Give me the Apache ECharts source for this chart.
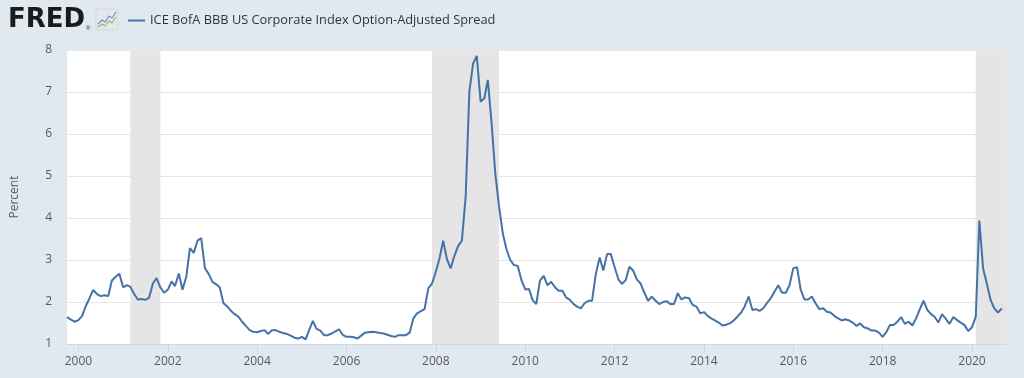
<!DOCTYPE html>
<html><head><meta charset="utf-8">
<script src="https://cdn.jsdelivr.net/npm/echarts@6/dist/echarts.min.js"></script>
<style>html,body{margin:0;padding:0;background:#e1e9f0;}#chart{width:1024px;height:378px;}</style>
</head><body><div id="chart"></div>
<script>
const seriesName = 'ICE BofA BBB US Corporate Index Option-Adjusted Spread';
const startYear = 1999, startMonth = 10; // first monthly observation: 1999-10
const spreadValues = [
 1.64,1.58,1.53,1.57,1.67,1.90,2.09,2.29,2.19,2.14,2.16,2.14,
 2.51,2.60,2.67,2.35,2.40,2.36,2.19,2.06,2.07,2.05,2.10,2.44,
 2.57,2.35,2.22,2.29,2.49,2.38,2.68,2.29,2.60,3.28,3.17,3.46,
 3.52,2.80,2.67,2.48,2.42,2.35,1.97,1.90,1.79,1.71,1.65,1.53,
 1.43,1.33,1.29,1.28,1.31,1.33,1.24,1.33,1.33,1.29,1.26,1.24,
 1.20,1.15,1.13,1.17,1.11,1.33,1.55,1.36,1.32,1.21,1.21,1.25,
 1.30,1.35,1.22,1.17,1.17,1.16,1.13,1.20,1.27,1.28,1.29,1.28,
 1.26,1.25,1.22,1.19,1.17,1.21,1.21,1.21,1.27,1.61,1.73,1.78,
 1.83,2.33,2.44,2.72,3.05,3.46,3.02,2.80,3.10,3.33,3.46,4.51,
 7.01,7.68,7.86,6.77,6.85,7.29,6.25,5.06,4.27,3.64,3.25,3.00,
 2.88,2.86,2.52,2.30,2.31,2.05,1.95,2.51,2.62,2.40,2.48,2.35,
 2.27,2.27,2.11,2.05,1.95,1.89,1.85,1.97,2.03,2.03,2.67,3.06,
 2.75,3.14,3.14,2.84,2.54,2.43,2.52,2.84,2.75,2.54,2.44,2.22,
 2.03,2.13,2.03,1.95,2.00,2.02,1.95,1.95,2.21,2.06,2.11,2.09,
 1.93,1.89,1.73,1.76,1.67,1.61,1.56,1.51,1.44,1.46,1.49,1.56,
 1.65,1.75,1.90,2.13,1.81,1.83,1.79,1.85,1.98,2.09,2.25,2.40,
 2.22,2.22,2.40,2.80,2.83,2.30,2.06,2.06,2.13,1.97,1.83,1.85,
 1.77,1.75,1.67,1.61,1.56,1.59,1.56,1.51,1.43,1.49,1.40,1.37,
 1.32,1.32,1.27,1.17,1.29,1.45,1.45,1.53,1.64,1.48,1.53,1.44,
 1.61,1.83,2.03,1.81,1.71,1.65,1.51,1.71,1.60,1.48,1.64,1.57,
 1.51,1.45,1.31,1.40,1.65,3.94,2.80,2.44,2.05,1.85,1.75,1.85
];
const recessions = [['2001-03-01','2001-11-01'],['2007-12-01','2009-06-01'],['2020-02-01','2020-10-05']];
const xRange = ['1999-09-30','2020-10-05'];
const yearTicks = ['2000','2002','2004','2006','2008','2010','2012','2014','2016','2018','2020'];
const yRange = [1, 8];

const ts = s => Date.parse(s + 'T00:00:00Z');
const seriesData = spreadValues.map((v, i) => [Date.UTC(startYear, startMonth - 1 + i, 1), v]);
const tickValues = yearTicks.map(y => Date.UTC(+y, 0, 1));
const labelColor = '#595959';
const font = "'Open Sans', 'Liberation Sans', sans-serif";

const chart = echarts.init(document.getElementById('chart'), null, {renderer: 'canvas'});
chart.setOption({
  animation: false,
  backgroundColor: '#e1e9f0',
  grid: {left: 67, right: 18, top: 50, bottom: 34, show: true, backgroundColor: '#ffffff', borderWidth: 0},
  legend: {
    data: [seriesName], left: 123, top: 9, icon: 'rect', itemWidth: 17, itemHeight: 2,
    textStyle: {fontSize: 12.8, color: '#333333', fontFamily: font}
  },
  graphic: [
    {type: 'text', left: 8, top: 7, style: {text: 'FRED', fill: '#1b1b1b', font: "bold 26px 'DejaVu Sans', sans-serif"}},
    {type: 'text', left: 86, top: 25, style: {text: '®', fill: '#1b1b1b', font: "6px 'Liberation Sans', sans-serif"}},
    {type: 'rect', shape: {x: 96, y: 9, width: 22, height: 21, r: 2}, style: {fill: '#e4e8ed', stroke: '#cfd5dc', lineWidth: 1}},
    {type: 'polyline', shape: {points: [[98,24],[102,20],[105,22],[109,16],[112,18],[116,12]]}, style: {stroke: '#6f8fbf', lineWidth: 1.2, fill: null}},
    {type: 'polyline', shape: {points: [[98,27],[102,24],[105,26],[109,21],[112,23],[116,17]]}, style: {stroke: '#8fbf5f', lineWidth: 1.2, fill: null}}
  ],
  xAxis: {
    type: 'value', min: ts(xRange[0]), max: ts(xRange[1]), scale: true,
    axisLine: {show: true, lineStyle: {color: '#ccd6eb'}},
    axisTick: {show: true, length: 8, customValues: tickValues, lineStyle: {color: '#ccd6eb'}},
    axisLabel: {customValues: tickValues, formatter: v => String(new Date(v).getUTCFullYear()),
      color: labelColor, fontSize: 12, fontFamily: font, margin: 12},
    splitLine: {show: false}
  },
  yAxis: {
    type: 'value', min: yRange[0], max: yRange[1], interval: 1,
    name: 'Percent', nameLocation: 'middle', nameGap: 46,
    nameTextStyle: {color: labelColor, fontSize: 12, fontFamily: font},
    axisLine: {show: false}, axisTick: {show: false},
    axisLabel: {color: labelColor, fontSize: 12, fontFamily: font, margin: 15},
    splitLine: {lineStyle: {color: '#e6e6e6'}}
  },
  series: [{
    name: seriesName, type: 'line', data: seriesData, showSymbol: false, symbol: 'none',
    lineStyle: {color: '#4572a7', width: 2}, itemStyle: {color: '#4572a7'},
    markArea: {silent: true, itemStyle: {color: '#e5e5e5'},
      data: recessions.map(r => [{xAxis: ts(r[0])}, {xAxis: ts(r[1])}])}
  }]
});
</script></body></html>
